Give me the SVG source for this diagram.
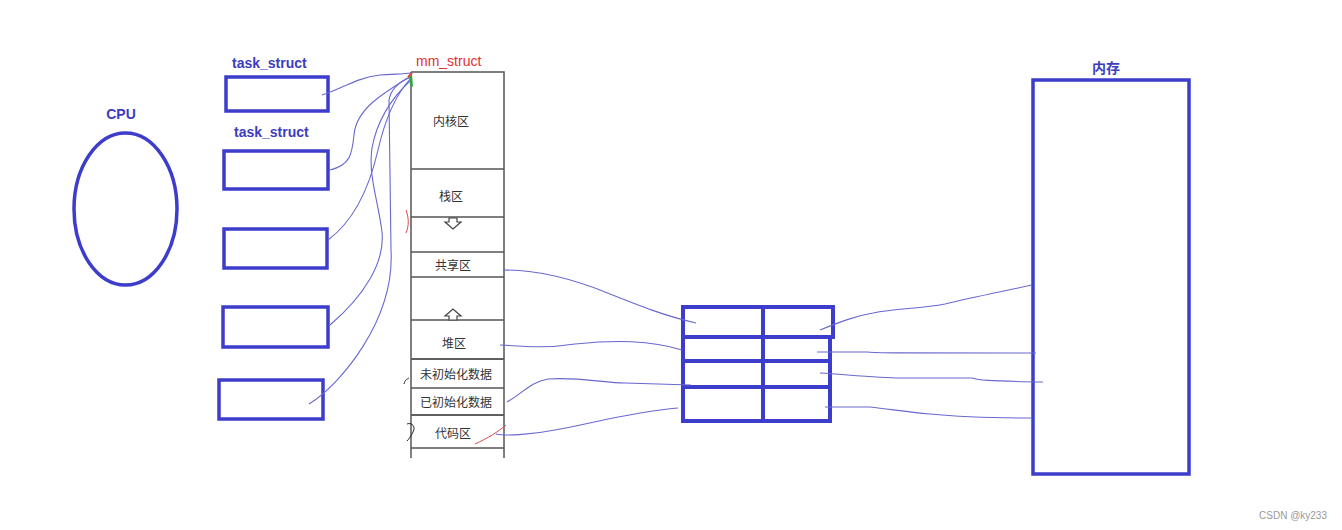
<svg xmlns="http://www.w3.org/2000/svg" width="1342" height="530" viewBox="0 0 1342 530">
<style>
.node{fill:none;stroke:#3d3dcc;stroke-width:3.5}
.thick{fill:none;stroke:#3d3dcc;stroke-width:4}
.cell{fill:none;stroke:#555;stroke-width:1.5}
.lbl{font-family:"Liberation Sans","Noto Sans CJK SC",sans-serif;font-weight:bold;fill:#3c3cc0;font-size:14px}
.seg{font-family:"Noto Sans CJK SC","Liberation Sans",sans-serif;fill:#333;font-size:12px;text-anchor:middle}
.conn{fill:none;stroke:#6868d0;stroke-width:1.1}
.mark{fill:none;stroke:#e04848;stroke-width:1}
</style>
<rect width="1342" height="530" fill="#fff"/>
<g id="cpu">
<ellipse class="node" cx="125.5" cy="209" rx="51.5" ry="76" stroke-width="3"/>
<text class="lbl" x="121" y="119" text-anchor="middle">CPU</text>
</g>
<g id="task1">
<text class="lbl" x="232" y="68">task_struct</text>
<rect class="node" x="226" y="77" width="102" height="34"/>
</g>
<g id="task2">
<text class="lbl" x="234" y="137">task_struct</text>
<rect class="node" x="224" y="151" width="104" height="38"/>
</g>
<g id="task3"><rect class="node" x="224" y="229" width="103" height="39"/></g>
<g id="task4"><rect class="node" x="223" y="307" width="105" height="40"/></g>
<g id="task5"><rect class="node" x="219" y="380" width="104" height="39"/></g>
<g id="mm_struct">
<text x="416" y="66" font-family="Liberation Sans,sans-serif" font-size="14" fill="#e03030">mm_struct</text>
<path class="cell" d="M411,72 H504 V458 M411,72 V458 M411,169 H504 M411,217 H504 M411,252 H504 M411,277 H504 M411,320 H504 M411,359 H504 M411,388 H504 M411,415 H504 M411,448 H504"/>
<path class="cell" d="M411,359 H504 M411,415 H504" stroke-width="2.2"/>
<text class="seg" x="451" y="126">内核区</text>
<text class="seg" x="451" y="201">栈区</text>
<path d="M449,218 h8 v4 h4 l-8,7 l-8,-7 h4 z" fill="#fff" stroke="#444" stroke-width="1.2"/>
<text class="seg" x="453" y="270">共享区</text>
<path d="M449,320 h8 v-4 h4 l-8,-7 l-8,7 h4 z" fill="#fff" stroke="#444" stroke-width="1.2"/>
<text class="seg" x="454" y="348">堆区</text>
<text class="seg" x="456" y="379">未初始化数据</text>
<text class="seg" x="456" y="407">已初始化数据</text>
<text class="seg" x="453" y="438">代码区</text>
</g>
<g id="page_table">
<rect class="thick" x="683" y="307" width="150" height="30" stroke-width="4.5"/>
<rect class="thick" x="683" y="337" width="147" height="84"/>
<path class="thick" d="M763,307 V421 M683,361 H830 M683,387 H830"/>
</g>
<g id="memory">
<text class="lbl" x="1106" y="73" text-anchor="middle" font-family="Noto Sans CJK SC,sans-serif">内存</text>
<rect class="node" x="1033" y="80" width="156" height="394"/>
</g>
<g id="connectors">
<path class="conn" d="M322,95 C340,90 355,78 380,75 C395,74 405,74 411,73"/>
<path class="conn" d="M330,170 C350,165 352,155 354,135 C356,110 380,95 411,76"/>
<path class="conn" d="M328,240 C355,220 370,185 378,150 C386,115 398,92 411,78"/>
<path class="conn" d="M330,325 C365,295 385,262 382,232 C378,200 368,175 372,148 C378,115 398,92 411,80"/>
<path class="conn" d="M309,404 C340,385 395,320 391,250 L389,100 C391,88 401,81 411,77"/>
<path class="conn" d="M503,270 C540,270 575,280 605,292 C640,306 665,316 696,323"/>
<path class="conn" d="M500,345 C530,347 550,348 575,344 C615,340 650,340 682,350"/>
<path class="conn" d="M507,402 C522,394 530,382 548,379 C580,377 605,383 625,383 L691,385"/>
<path class="conn" d="M496,434 C505,436 530,435 555,430 C590,424 630,412 678,408"/>
<path class="conn" d="M820,330 C840,322 855,316 873,313 C895,308 920,309 945,304 C975,297 1000,292 1032,285"/>
<path class="conn" d="M817,352 L868,352 C875,353 880,353 1036,353"/>
<path class="conn" d="M820,373 C850,375 880,378 900,378 L972,378 C978,380 985,381 1043,382"/>
<path class="conn" d="M825,407 L870,407 C890,409 905,412 930,414 C960,417 985,418 1032,418"/>
</g>
<g id="marks">
<path d="M409,75 L412,74 L413,87 L410,85 Z" fill="#2faa3a"/>
<path d="M408,77 L412,73" stroke="#e04848" stroke-width="2"/>
<path class="mark" d="M406,210 C409,218 409,226 406,233"/>
<path class="mark" d="M475,444 C488,438 498,432 506,425" stroke-width="1.2"/>
<path d="M407,424 C412,422 416,427 413,432 C411,436 409,439 407,441" fill="none" stroke="#222" stroke-width="1"/>
<path d="M404,384 C405,380 407,379 409,378" fill="none" stroke="#222" stroke-width="1"/>
</g>
<text x="1327" y="519" text-anchor="end" font-family="Liberation Sans,sans-serif" font-size="10" fill="#999">CSDN @ky233</text>
</svg>
